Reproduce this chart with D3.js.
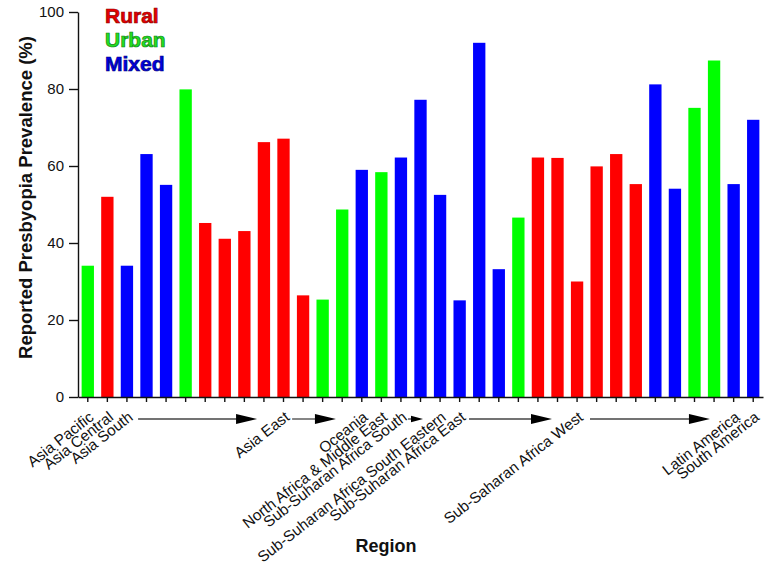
<!DOCTYPE html>
<html>
<head>
<meta charset="utf-8">
<script src="https://cdn.jsdelivr.net/npm/d3@7"></script>
<style>
  html, body { margin: 0; padding: 0; background: #fff; }
  svg { display: block; font-family: "Liberation Sans", Arial, sans-serif; }
</style>
</head>
<body>
<svg id="chart" width="768" height="567"></svg>
<script>
// ---- data ----
const values = [34.1, 52.0, 34.1, 63.1, 55.1, 79.9, 45.2, 41.1, 43.1, 66.2, 67.1, 26.4,
                25.3, 48.7, 59.0, 58.4, 62.2, 77.2, 52.5, 25.1, 92.0, 33.2, 46.6, 62.2,
                62.1, 30.0, 59.9, 63.1, 55.3, 81.2, 54.1, 75.1, 87.4, 55.3, 72.0];
const settings = ["Urban","Rural","Mixed","Mixed","Mixed","Urban","Rural","Rural","Rural","Rural","Rural","Rural",
                  "Urban","Urban","Mixed","Urban","Mixed","Mixed","Mixed","Mixed","Mixed","Mixed","Urban","Rural",
                  "Rural","Rural","Rural","Rural","Rural","Mixed","Mixed","Urban","Urban","Mixed","Mixed"];
const regionLabels = ["Asia Pacific","Asia Central","Asia South","","","","","","","","Asia East","",
                      "","","Oceania","North Africa & Middle East","Sub-Suharan Africa South","","Sub-Suharan Africa South Eastern","Sub-Suharan Africa East","","","","",
                      "","Sub-Saharan Africa West","","","","","","","","Latin America","South America"];
const legendItems = ["Rural","Urban","Mixed"];
const yTicks = [0, 20, 40, 60, 80, 100];
// region-continuation arrows, in bar-step units from the axis start
const arrowSpans = [[3.07, 9.15], [10.94, 13.18], [16.86, 17.63], [19.98, 24.22], [26.16, 32.29]];

(function () {
// ---- layout ----
const colors = { Rural: "#ff0000", Urban: "#00ff00", Mixed: "#0000ff" };
const legendColors = { Rural: "#e80000", Urban: "#22e022", Mixed: "#0000e0" };
const legendStroke = { Rural: "#900000", Urban: "#108010", Mixed: "#000080" };
const mLeft = 78, mRight = 763, mTop = 12, mBottom = 397;

const svg = d3.select("#chart");
const idx = d3.range(values.length);

const x = d3.scaleBand().domain(idx).range([mLeft, mRight]).paddingInner(0.37).paddingOuter(0.185);
const y = d3.scaleLinear().domain([0, 100]).range([mBottom, mTop]);

// bars
svg.append("g").selectAll("rect").data(idx).join("rect")
  .attr("x", i => x(i))
  .attr("y", i => y(values[i]))
  .attr("width", x.bandwidth())
  .attr("height", i => y(0) - y(values[i]))
  .attr("fill", i => colors[settings[i]]);

// y axis
const yAxis = svg.append("g").attr("transform", `translate(${mLeft},0)`)
  .call(d3.axisLeft(y).tickValues(yTicks).tickSize(9).tickPadding(5).tickSizeOuter(0));
yAxis.selectAll("text").attr("font-size", 15).attr("fill", "#111").attr("font-family", "Liberation Sans, Arial, sans-serif");
yAxis.selectAll("line, path").attr("stroke", "#111").attr("stroke-width", 1.4);

// x axis
const xAxis = svg.append("g").attr("transform", `translate(0,${mBottom})`)
  .call(d3.axisBottom(x).tickSize(5).tickSizeOuter(0).tickFormat(i => regionLabels[i]));
xAxis.selectAll("line, path").attr("stroke", "#111").attr("stroke-width", 1.4);
xAxis.selectAll("text")
  .attr("font-size", 15.3).attr("fill", "#111").attr("font-family", "Liberation Sans, Arial, sans-serif")
  .attr("text-anchor", "end")
  .attr("y", 0).attr("dy", "0")
  .attr("transform", "translate(7,22) rotate(-38)");

// arrows
const step = x.step();
const ag = svg.append("g");
arrowSpans.forEach(([a, b]) => {
  const x0 = mLeft + a * step, x1 = mLeft + b * step, yy = 419;
  const headLen = Math.min(21, (x1 - x0) * 0.8), headH = headLen < 15 ? 3.2 : 5;
  ag.append("line").attr("x1", x0).attr("x2", x1 - headLen + 1).attr("y1", yy).attr("y2", yy)
    .attr("stroke", "#444").attr("stroke-width", 1.3);
  ag.append("path")
    .attr("d", `M${x1},${yy} L${x1 - headLen},${yy - headH} L${x1 - headLen},${yy + headH} Z`)
    .attr("fill", "#000");
});

// axis titles
svg.append("text")
  .attr("transform", `translate(25,${(mTop + mBottom) / 2 - 7}) rotate(-90)`)
  .attr("text-anchor", "middle").attr("dominant-baseline", "central")
  .attr("font-size", 18.5).attr("font-weight", "bold").attr("fill", "#111")
  .text("Reported Presbyopia Prevalence (%)");
svg.append("text")
  .attr("x", 386).attr("y", 552)
  .attr("text-anchor", "middle")
  .attr("font-size", 18).attr("font-weight", "bold").attr("fill", "#111")
  .text("Region");

// legend
svg.append("g").selectAll("text").data(legendItems).join("text")
  .attr("x", 105).attr("y", (d, i) => 23 + i * 24)
  .attr("font-size", 21).attr("font-weight", "bold")
  .attr("fill", d => legendColors[d])
  .attr("stroke", d => legendStroke[d]).attr("stroke-width", 0.7)
  .text(d => d);
})();
</script>
</body>
</html>
